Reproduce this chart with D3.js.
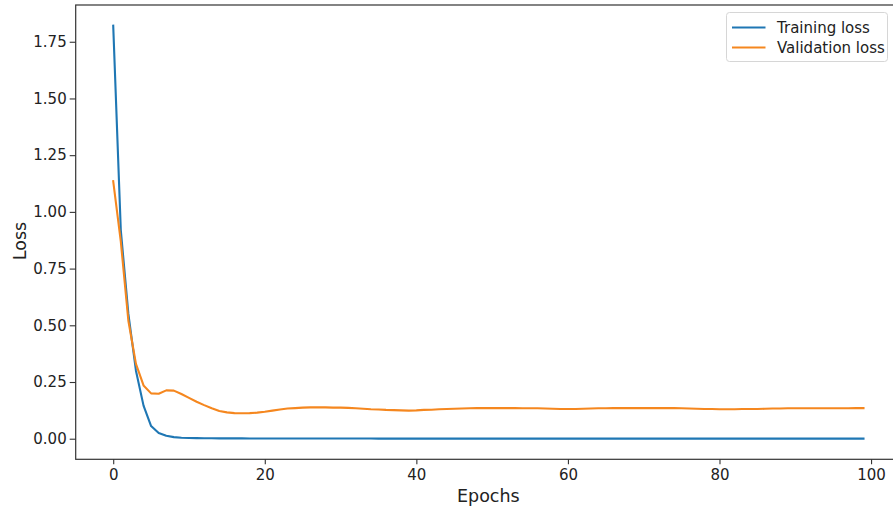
<!DOCTYPE html>
<html lang="en">
<head>
    <meta charset="UTF-8">
    <title>Loss</title>
    <script src="https://cdn.jsdelivr.net/npm/d3@7"></script>
    <style>
        body { margin: 0; background: #fff; }
        text { font-family: "DejaVu Sans", sans-serif; fill: #222; }
    </style>
</head>
<body>
<div id="chart"></div>

<script>
    // valeurs
    var epochs = d3.range(0, 100);

    var trainLoss = [
        1.821, 0.92, 0.55, 0.30, 0.146, 0.056, 0.025, 0.013, 0.007, 0.004,
        0.0030, 0.0025, 0.0021, 0.0018, 0.0016, 0.0015, 0.0014, 0.0013, 0.0012, 0.0011,
        0.0011, 0.0010, 0.0010, 0.0009, 0.0009, 0.0009, 0.0008, 0.0008, 0.0008, 0.0008,
        0.0007, 0.0007, 0.0007, 0.0007, 0.0007, 0.0006, 0.0006, 0.0006, 0.0006, 0.0006,
        0.0006, 0.0006, 0.0005, 0.0005, 0.0005, 0.0005, 0.0005, 0.0005, 0.0005, 0.0005,
        0.0005, 0.0005, 0.0004, 0.0004, 0.0004, 0.0004, 0.0004, 0.0004, 0.0004, 0.0004,
        0.0004, 0.0004, 0.0004, 0.0004, 0.0004, 0.0004, 0.0004, 0.0004, 0.0004, 0.0004,
        0.0004, 0.0003, 0.0003, 0.0003, 0.0003, 0.0003, 0.0003, 0.0003, 0.0003, 0.0003,
        0.0003, 0.0003, 0.0003, 0.0003, 0.0003, 0.0003, 0.0003, 0.0003, 0.0003, 0.0003,
        0.0003, 0.0003, 0.0003, 0.0003, 0.0003, 0.0003, 0.0003, 0.0003, 0.0003, 0.0003
    ];

    var valLoss = [
        1.135, 0.87, 0.52, 0.33, 0.235, 0.200, 0.198, 0.213, 0.212, 0.197,
        0.180, 0.163, 0.148, 0.134, 0.122, 0.116, 0.113, 0.112, 0.113, 0.115,
        0.119, 0.124, 0.129, 0.133, 0.135, 0.137, 0.138, 0.138, 0.138, 0.137,
        0.137, 0.136, 0.134, 0.132, 0.130, 0.129, 0.127, 0.126, 0.125, 0.124,
        0.125, 0.127, 0.128, 0.130, 0.131, 0.132, 0.133, 0.134, 0.135, 0.135,
        0.135, 0.135, 0.135, 0.135, 0.134, 0.134, 0.134, 0.133, 0.132, 0.131,
        0.131, 0.131, 0.132, 0.133, 0.134, 0.134, 0.135, 0.135, 0.135, 0.135,
        0.135, 0.135, 0.135, 0.135, 0.135, 0.134, 0.133, 0.132, 0.131, 0.131,
        0.130, 0.130, 0.130, 0.131, 0.131, 0.131, 0.132, 0.133, 0.133, 0.134,
        0.134, 0.134, 0.134, 0.134, 0.134, 0.134, 0.134, 0.134, 0.135, 0.135
    ];

    var xTicks = [0, 20, 40, 60, 80, 100];
    var yTicks = [0, 0.25, 0.5, 0.75, 1.0, 1.25, 1.5, 1.75];
    var seriesNames = ["Training loss", "Validation loss"];
    var colors = ["#1f77b4", "#f5871f"];

    var W = 893, H = 508;
    var margin = {top: 5, right: -8, bottom: 48.7, left: 75.7},
        width = W - margin.left - margin.right,
        height = H - margin.top - margin.bottom;

    var svg = d3.select("#chart").append("svg")
        .attr("width", W)
        .attr("height", H);

    var g = svg.append("g")
        .attr("transform", "translate(" + margin.left + "," + margin.top + ")");

    // marges 5% comme matplotlib
    var xr = d3.extent(epochs), xp = (xr[1] - xr[0]) * 0.05;
    var allY = trainLoss.concat(valLoss);
    var yr = d3.extent(allY), yp = (yr[1] - yr[0]) * 0.05;

    var x = d3.scaleLinear().domain([xr[0] - xp, xr[1] + xp]).range([0, width]);
    var y = d3.scaleLinear().domain([yr[0] - yp, yr[1] + yp]).range([height, 0]);

    var line = d3.line()
        .x(function(d, i) { return x(epochs[i]); })
        .y(function(d) { return y(d); });

    [trainLoss, valLoss].forEach(function(s, k) {
        g.append("path")
            .datum(s)
            .attr("fill", "none")
            .attr("stroke", colors[k])
            .attr("stroke-width", 2.1)
            .attr("stroke-linejoin", "round")
            .attr("stroke-linecap", "square")
            .attr("d", line);
    });

    var xAxis = g.append("g")
        .attr("transform", "translate(0," + height + ")")
        .call(d3.axisBottom(x).tickValues(xTicks).tickSize(5).tickPadding(5).tickFormat(d3.format("d")));
    var yAxis = g.append("g")
        .call(d3.axisLeft(y).tickValues(yTicks).tickSize(6).tickPadding(3).tickFormat(d3.format(".2f")));

    [xAxis, yAxis].forEach(function(a) {
        a.select(".domain").remove();
        a.selectAll(".tick line").attr("stroke", "#333").attr("stroke-width", 1.1);
        a.selectAll(".tick text").style("font-size", "15px").attr("fill", "#222");
    });

    // cadre
    g.append("rect")
        .attr("width", width)
        .attr("height", height)
        .attr("fill", "none")
        .attr("stroke", "#333")
        .attr("stroke-width", 1.2);

    svg.append("text")
        .attr("x", margin.left + width / 2)
        .attr("y", 502)
        .attr("text-anchor", "middle")
        .style("font-size", "17.5px")
        .text("Epochs");

    svg.append("text")
        .attr("transform", "translate(26,241) rotate(-90)")
        .attr("text-anchor", "middle")
        .style("font-size", "17.5px")
        .text("Loss");

    // légende
    var leg = svg.append("g");
    leg.append("rect")
        .attr("x", 726.5).attr("y", 12.5)
        .attr("width", 161).attr("height", 49)
        .attr("rx", 3)
        .attr("fill", "#fff")
        .attr("fill-opacity", 0.8)
        .attr("stroke", "#d6d6d6");

    seriesNames.forEach(function(n, k) {
        var ly = 27.5 + k * 20;
        leg.append("line")
            .attr("x1", 732).attr("x2", 765.5)
            .attr("y1", ly).attr("y2", ly)
            .attr("stroke", colors[k])
            .attr("stroke-width", 2.1);
        leg.append("text")
            .attr("x", 777)
            .attr("y", ly + 5.3)
            .style("font-size", "15px")
            .text(n);
    });
</script>
</body>
</html>
